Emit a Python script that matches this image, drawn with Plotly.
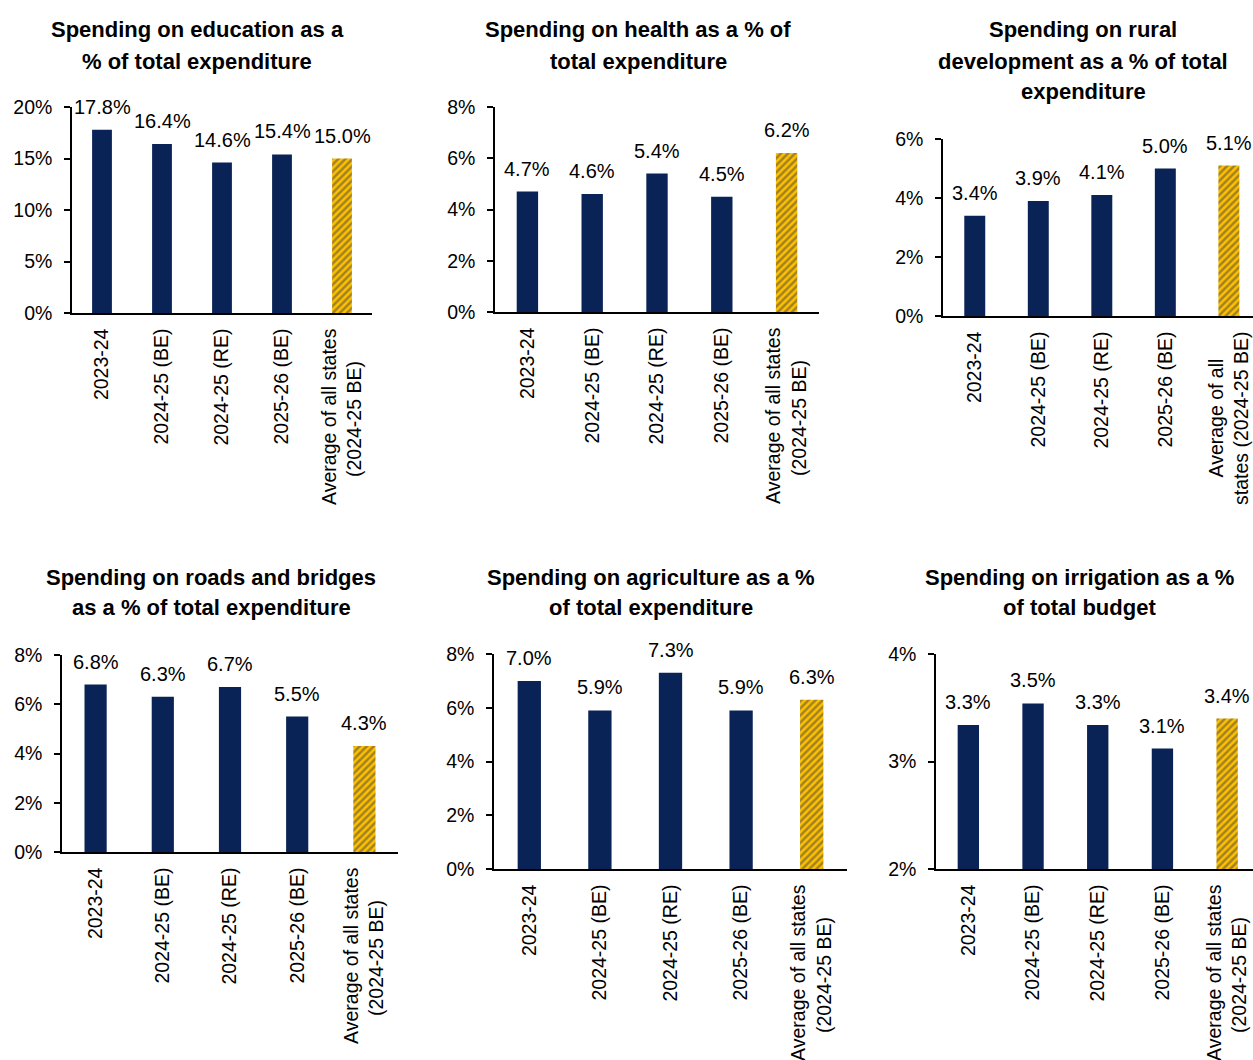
import plotly.graph_objects as go

W, H = 1253, 1060

categories = ["2023-24", "2024-25 (BE)", "2024-25 (RE)", "2025-26 (BE)", "Average of all states (2024-25 BE)"]
NB = "\u00a0"
tick_labels_std = ["2023-24", "2024-25 (BE)", "2024-25 (RE)", "2025-26 (BE)",
                   "Average of all states<br>(2024-25 BE)" + NB * 6]
tick_labels_rural = ["2023-24", "2024-25 (BE)", "2024-25 (RE)", "2025-26 (BE)",
                     "Average of all" + NB * 5 + "<br>states (2024-25 BE)"]

education = [17.8, 16.4, 14.6, 15.4, 15.0]
health = [4.7, 4.6, 5.4, 4.5, 6.2]
rural = [3.4, 3.9, 4.1, 5.0, 5.1]
roads = [6.8, 6.3, 6.7, 5.5, 4.3]
agriculture = [7.0, 5.9, 7.3, 5.9, 6.3]
irrigation = [3.34, 3.54, 3.34, 3.12, 3.40]

titles = [
    ["Spending on education as a", "% of total expenditure"],
    ["Spending on health as a % of", "total expenditure"],
    ["Spending on rural", "development as a % of total", "expenditure"],
    ["Spending on roads and bridges", "as a % of total expenditure"],
    ["Spending on agriculture as a %", "of total expenditure"],
    ["Spending on irrigation as a %", "of total budget"],
]

NAVY = "#0A2356"
GOLD = "#FFC000"
FONT = "Liberation Sans, Arial, sans-serif"

panels = [
    dict(vals=education, x=(72, 372), y=(107, 313), yr=(0, 20), dt=5, xe=4.5, tx=197, ty=[30, 61], tl=tick_labels_std),
    dict(vals=health, x=(495, 819), y=(107, 312), yr=(0, 8), dt=2, xe=4.5, tx=638, ty=[30, 61], tl=tick_labels_std),
    dict(vals=rural, x=(943, 1253), y=(139, 316), yr=(0, 6), dt=2, xe=4.38, tx=1083, ty=[30, 61, 92], tl=tick_labels_rural),
    dict(vals=roads, x=(62, 398), y=(655, 852), yr=(0, 8), dt=2, xe=4.5, tx=211, ty=[577, 607], tl=tick_labels_std),
    dict(vals=agriculture, x=(494, 847), y=(654, 869), yr=(0, 8), dt=2, xe=4.5, tx=651, ty=[577, 607], tl=tick_labels_std),
    dict(vals=irrigation, x=(936, 1253), y=(654, 869), yr=(2, 4), dt=1, xe=4.40, tx=1079, ty=[577, 607], tl=tick_labels_std),
]

fig = go.Figure()
annotations = []
layout = {}

for i, p in enumerate(panels):
    k = "" if i == 0 else str(i + 1)
    xa, ya = "x" + k, "y" + k
    colors = [NAVY] * 4 + [GOLD]
    shapes = [""] * 4 + ["/"]
    fig.add_trace(go.Bar(
        x=categories, y=p["vals"], xaxis=xa, yaxis=ya, width=0.33,
        marker=dict(color=colors, line=dict(width=0),
                    pattern=dict(shape=shapes, fgcolor="#161616",
                                 size=5, solidity=0.5, fillmode="overlay")),
        showlegend=False, hoverinfo="skip",
    ))
    layout["xaxis" + k] = dict(
        domain=[p["x"][0] / W, p["x"][1] / W], anchor=ya,
        type="category", range=[-0.5, p["xe"]],
        tickvals=categories, ticktext=p["tl"], tickangle=-90,
        showline=True, linecolor="black", linewidth=1.5, ticks="",
        tickfont=dict(family=FONT, size=19.5, color="black"),
        ticklabelstandoff=6, showgrid=False, zeroline=False, fixedrange=True,
        automargin=False,
    )
    layout["yaxis" + k] = dict(
        domain=[1 - p["y"][1] / H, 1 - p["y"][0] / H], anchor=xa,
        range=list(p["yr"]), dtick=p["dt"], tick0=0, ticksuffix="%",
        showline=True, linecolor="black", linewidth=1.5,
        ticks="outside", ticklen=6, tickwidth=1.5, tickcolor="black",
        tickfont=dict(family=FONT, size=19.5, color="black"),
        ticklabelstandoff=8,
        showgrid=False, zeroline=False, fixedrange=True, automargin=False,
    )
    for c, v in zip(categories, p["vals"]):
        annotations.append(dict(
            x=c, y=v, xref=xa, yref=ya, text=f"{v:.1f}%", showarrow=False,
            yanchor="bottom", xanchor="center", yshift=10,
            font=dict(family=FONT, size=20, color="black"),
        ))
    for line, yy in zip(titles[i], p["ty"]):
        annotations.append(dict(
            x=p["tx"] / W, y=1 - yy / H, xref="paper", yref="paper", text="<b>" + line + "</b>",
            showarrow=False, xanchor="center", yanchor="middle",
            font=dict(family=FONT, size=22, color="black"),
        ))

fig.update_layout(
    width=W, height=H, autosize=False,
    margin=dict(l=0, r=0, t=0, b=0, autoexpand=False),
    paper_bgcolor="white", plot_bgcolor="white",
    annotations=annotations, **layout,
)

fig.write_html("out.html", include_plotlyjs=True, config={"displayModeBar": False})
